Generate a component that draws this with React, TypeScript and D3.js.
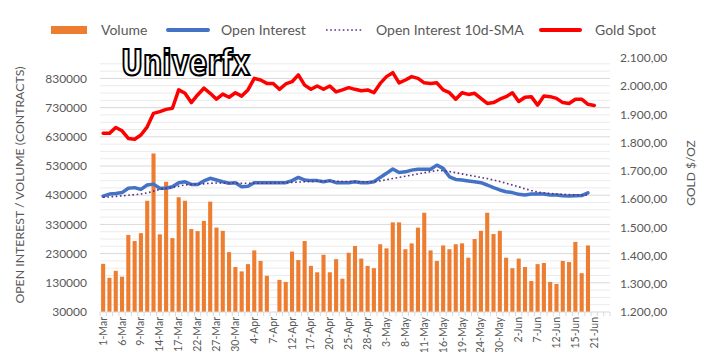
import React from 'react';
import * as d3 from 'd3';

const dates = [
  '1-Mar','2-Mar','3-Mar','6-Mar','7-Mar','8-Mar','9-Mar','10-Mar','13-Mar','14-Mar','15-Mar','16-Mar','17-Mar','20-Mar','21-Mar','22-Mar','23-Mar','24-Mar','27-Mar','28-Mar','29-Mar','30-Mar','31-Mar',
  '3-Apr','4-Apr','5-Apr','6-Apr','7-Apr','10-Apr','11-Apr','12-Apr','13-Apr','14-Apr','17-Apr','18-Apr','19-Apr','20-Apr','21-Apr','24-Apr','25-Apr','26-Apr','27-Apr','28-Apr',
  '1-May','2-May','3-May','4-May','5-May','8-May','9-May','10-May','11-May','12-May','15-May','16-May','17-May','18-May','19-May','22-May','23-May','24-May','25-May','26-May','30-May','31-May',
  '1-Jun','2-Jun','5-Jun','6-Jun','7-Jun','8-Jun','9-Jun','12-Jun','13-Jun','14-Jun','15-Jun','16-Jun','20-Jun','21-Jun','22-Jun','23-Jun'
];

const volume: (number | null)[] = [
  195000,147000,171000,151000,294000,273000,300000,411000,573000,296000,476000,283000,423000,411000,314000,307000,342000,408000,319000,308000,235000,184000,169000,
  194000,241000,205000,154000,null,140000,133000,237000,208000,273000,188000,166000,226000,166000,211000,144000,233000,
  256000,213000,188000,180000,262000,248000,337000,337000,245000,265000,319000,370000,241000,205000,258000,245000,262000,265000,216000,280000,308000,370000,297000,308000,216000,
  180000,213000,184000,136000,194000,198000,133000,126000,205000,201000,270000,163000,258000
];

const openInterest = [
  427000,434000,436000,439000,454000,456000,450000,465000,468000,454000,454000,459000,473000,476000,467000,467000,479000,488000,482000,476000,471000,473000,459000,
  461000,473000,473000,473000,473000,473000,473000,480000,491000,482000,480000,480000,476000,480000,473000,473000,473000,
  476000,473000,473000,476000,491000,505000,520000,508000,510000,516000,519000,519000,519000,533000,522000,493000,484000,482000,479000,476000,473000,465000,456000,448000,442000,
  439000,433000,431000,434000,434000,434000,431000,431000,428000,427000,428000,429000,438000
];

const oiSma = [
  423000,424000,426000,428000,430000,432000,434000,438000,444000,450000,454000,457000,461000,465000,467000,468000,469000,471000,472000,472000,472000,472000,471000,
  471000,471000,471000,471000,472000,472000,473000,474000,475000,476000,477000,478000,478000,478000,478000,477000,477000,
  476000,476000,476000,476000,479000,483000,487000,491000,495000,499000,503000,507000,511000,515000,514000,511000,507000,503000,499000,495000,491000,487000,482000,477000,471000,
  465000,459000,452000,446000,441000,438000,436000,434000,433000,432000,431000,431000,431000
];

const goldSpot = [
  1833,1833,1854,1842,1815,1812,1827,1856,1904,1910,1918,1922,1987,1975,1942,1969,1993,1975,1954,1972,1961,1977,1965,
  1987,2028,2022,2010,2010,1989,2008,2016,2040,2004,1989,2001,1989,2001,1980,1987,1995,
  1989,1984,1987,1977,2010,2034,2048,2012,2022,2034,2028,2012,2010,2012,1987,1977,1954,1977,1971,1975,1957,1939,1942,1954,1963,
  1977,1946,1961,1963,1933,1965,1963,1957,1942,1939,1954,1954,1936,1932
];

const leftTicks = [30000,130000,230000,330000,430000,530000,630000,730000,830000];
const rightTicks = [1200,1300,1400,1500,1600,1700,1800,1900,2000,2100];

const legendItems = ['Volume', 'Open Interest', 'Open Interest 10d-SMA', 'Gold Spot'];

const COLORS = {
  volume: '#ED7D31',
  oi: '#4472C4',
  sma: '#5B2C83',
  gold: '#FF0000',
  text: '#595959',
  gridMajor: '#d9d9d9',
  gridMinor: '#ebebeb',
};

const FONT = "Lato, 'Open Sans', sans-serif";

export default function App() {
  const W = 708, H = 352;
  const left = 100, right = 610, top = 58, bottom = 312;

  const x = d3.scaleBand<string>().domain(dates).range([left, right]).paddingInner(0.35).paddingOuter(0.175);
  const yL = d3.scaleLinear().domain([30000, 900000]).range([bottom, top]);
  const yR = d3.scaleLinear().domain([1200, 2100]).range([bottom, top]);
  const cx = (i: number) => (x(dates[i]) as number) + x.bandwidth() / 2;

  const locale = d3.formatLocale({ decimal: ',', thousands: '.', grouping: [3], currency: ['$', ''] });
  const fmtR = locale.format(',.2f');
  const fmtL = d3.format('d');

  const minor = d3.range(30000, 900001, 25000).filter((v) => (v - 30000) % 100000 !== 0);

  const lineL = d3.line<number>().x((_, i) => cx(i)).y((d) => yL(d)).curve(d3.curveLinear);
  const lineR = d3.line<number>().x((_, i) => cx(i)).y((d) => yR(d)).curve(d3.curveLinear);

  const step = x.step();
  const tickXs = d3.range(dates.length + 1).map((i) => left + x.paddingOuter() * step - (x.paddingInner() * step) / 2 + i * step);

  return (
    <svg width={W} height={H} style={{ position: 'absolute', left: 0, top: 0, background: '#fff' }} fontFamily={FONT}>
      <rect x={0} y={0} width={W} height={H} fill="#fff" />
      {/* grid */}
      {minor.map((v) => (
        <line key={'m' + v} x1={left} x2={right} y1={yL(v)} y2={yL(v)} stroke={COLORS.gridMinor} strokeWidth={1} />
      ))}
      {leftTicks.slice(1).map((v) => (
        <line key={'g' + v} x1={left} x2={right} y1={yL(v)} y2={yL(v)} stroke={COLORS.gridMajor} strokeWidth={1} />
      ))}
      {/* bars */}
      {volume.map((v, i) =>
        v == null ? null : (
          <rect key={'b' + i} x={x(dates[i])} y={yL(v)} width={x.bandwidth()} height={yL(30000) - yL(v)} fill={COLORS.volume} />
        )
      )}
      {/* x axis */}
      <line x1={left} x2={right} y1={bottom} y2={bottom} stroke="#d9d9d9" strokeWidth={1} />
      {tickXs.map((tx, i) => (
        <line key={'t' + i} x1={tx} x2={tx} y1={bottom} y2={bottom + 4} stroke="#d9d9d9" strokeWidth={1} />
      ))}
      {dates.map((d, i) =>
        i % 3 === 0 ? (
          <text key={'xl' + i} transform={`translate(${cx(i) + 3.5},${bottom + 5}) rotate(-90)`} textAnchor="end" fontSize={10.5} fill={COLORS.text}>
            {d}
          </text>
        ) : null
      )}
      {/* lines */}
      <path d={lineL(openInterest) || ''} fill="none" stroke={COLORS.oi} strokeWidth={3.5} strokeLinejoin="round" strokeLinecap="round" />
      <path d={lineL(oiSma) || ''} fill="none" stroke={COLORS.sma} strokeWidth={1.6} strokeDasharray="1.6 2.6" strokeLinecap="butt" />
      <path d={lineR(goldSpot) || ''} fill="none" stroke={COLORS.gold} strokeWidth={3.5} strokeLinejoin="round" strokeLinecap="round" />
      {/* left axis labels */}
      {leftTicks.map((v) => (
        <text key={'ll' + v} x={87} y={yL(v)} dy="0.35em" textAnchor="end" fontSize={12} fill={COLORS.text}>
          {fmtL(v)}
        </text>
      ))}
      {/* right axis labels */}
      {rightTicks.map((v) => (
        <text key={'rl' + v} x={620} y={yR(v)} dy="0.35em" textAnchor="start" fontSize={12} fill={COLORS.text}>
          {fmtR(v)}
        </text>
      ))}
      {/* axis titles */}
      <text transform={`translate(24,${(top + bottom) / 2}) rotate(-90)`} textAnchor="middle" fontSize={12.3} fill={COLORS.text}>
        OPEN INTEREST / VOLUME (CONTRACTS)
      </text>
      <text transform={`translate(695,173) rotate(-90)`} textAnchor="middle" fontSize={12} fill={COLORS.text}>
        GOLD $/OZ
      </text>
      {/* legend */}
      <g>
        <rect x={51} y={26} width={36} height={8} fill={COLORS.volume} />
        <text x={101} y={35} fontSize={14} fill={COLORS.text}>{legendItems[0]}</text>
        <line x1={168} x2={208} y1={30} y2={30} stroke={COLORS.oi} strokeWidth={4} strokeLinecap="round" />
        <text x={221} y={35} fontSize={14} fill={COLORS.text}>{legendItems[1]}</text>
        <line x1={326} x2={362} y1={30} y2={30} stroke={COLORS.sma} strokeWidth={1.6} strokeDasharray="1.6 2.6" />
        <text x={376} y={35} fontSize={14} fill={COLORS.text}>{legendItems[2]}</text>
        <line x1={541} x2={580} y1={30} y2={30} stroke={COLORS.gold} strokeWidth={4} strokeLinecap="round" />
        <text x={595} y={35} fontSize={14} fill={COLORS.text}>{legendItems[3]}</text>
      </g>
      {/* watermark */}
      <text x={121} y={75} fontSize={36} fontWeight="bold" fontFamily="'DejaVu Sans Condensed', 'DejaVu Sans', sans-serif" fill="#fff" stroke="#000" strokeWidth={2.2} textLength={129} lengthAdjust="spacingAndGlyphs">
        Univerfx
      </text>
    </svg>
  );
}
